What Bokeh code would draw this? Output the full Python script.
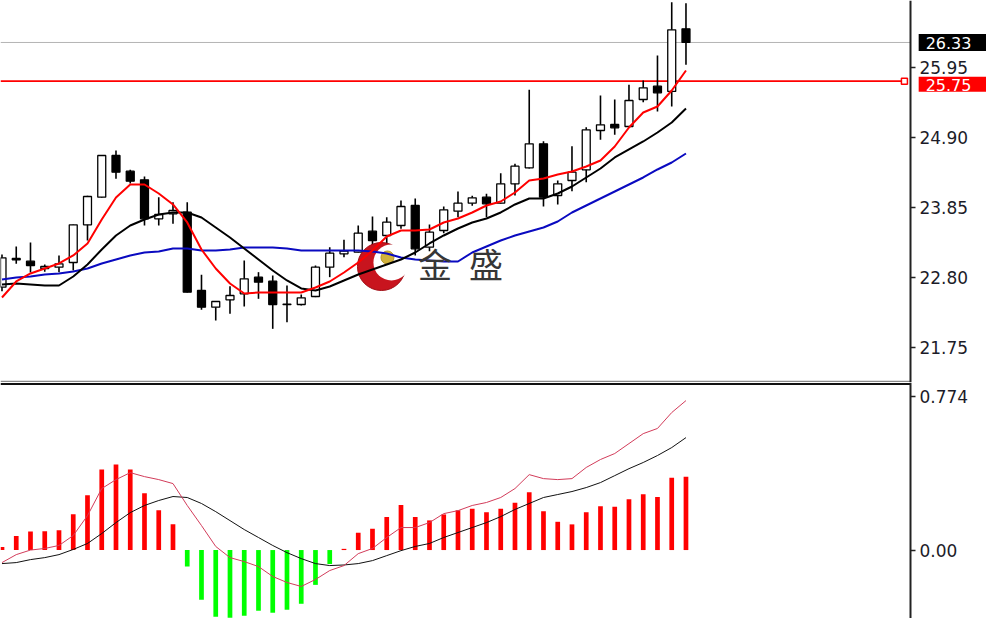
from bokeh.plotting import figure
from bokeh.layouts import column
from bokeh.models import Range1d, FixedTicker, Label, ColumnDataSource, LinearAxis
from bokeh.embed import file_html
from bokeh.resources import INLINE

# ---------------- data ----------------
opens  = [22.66, 23.07, 23.05, 22.94, 22.96, 23.03, 23.595, 24.01, 24.635, 24.40,
          24.27, 23.685, 23.76, 23.785, 22.61, 22.36, 22.47, 22.56, 22.81, 22.75,
          22.40, 22.40, 22.52, 22.96, 23.16, 23.185, 23.50, 23.435, 23.585, 23.885,
          23.26, 23.51, 23.80, 23.92, 24.01, 23.92, 24.21, 24.45, 24.81, 24.035,
          24.26, 24.42, 25.01, 25.10, 25.07, 25.475, 25.675, 25.595, 26.535]
highs  = [23.15, 23.27, 23.33, 23.00, 23.135, 23.60, 24.03, 24.64, 24.71, 24.42,
          24.32, 24.01, 23.935, 23.935, 22.845, 22.45, 22.675, 23.06, 22.885, 22.835,
          22.685, 22.55, 22.985, 23.26, 23.37, 23.585, 23.72, 23.71, 23.96, 23.99,
          23.60, 23.87, 24.095, 24.03, 24.06, 24.37, 24.51, 25.62, 24.85, 24.26,
          24.775, 25.06, 25.535, 25.475, 25.695, 25.76, 26.135, 26.935, 26.92]
lows   = [22.60, 23.01, 22.88, 22.89, 22.885, 22.91, 23.36, 24.00, 24.285, 24.215,
          23.585, 23.585, 23.61, 22.58, 22.32, 22.16, 22.26, 22.37, 22.485, 22.035,
          22.135, 22.385, 22.51, 22.81, 23.11, 23.18, 23.20, 23.30, 23.535, 23.135,
          23.20, 23.47, 23.71, 23.88, 23.71, 23.91, 24.035, 24.44, 23.87, 23.90,
          24.10, 24.235, 24.87, 24.945, 25.05, 25.435, 25.295, 25.37, 25.995]
closes = [23.10, 23.09, 22.985, 22.97, 23.01, 23.595, 24.02, 24.635, 24.385, 24.25,
          23.685, 23.75, 23.81, 22.585, 22.36, 22.445, 22.535, 22.785, 22.735, 22.40,
          22.405, 22.50, 22.96, 23.17, 23.20, 23.47, 23.36, 23.635, 23.87, 23.235,
          23.485, 23.82, 23.92, 24.00, 23.91, 24.21, 24.475, 24.81, 24.01, 24.21,
          24.385, 25.02, 25.095, 25.05, 25.46, 25.65, 25.575, 26.52, 26.33]

ma_fast = [22.505, 22.745, 22.865, 22.94, 23.015, 23.135, 23.315, 23.675, 24.005, 24.20,
           24.20, 24.065, 23.90, 23.63, 23.225, 22.94, 22.715, 22.565, 22.58, 22.58,
           22.58, 22.58, 22.655, 22.745, 22.88, 23.03, 23.21, 23.42, 23.51, 23.51,
           23.525, 23.63, 23.69, 23.78, 23.885, 23.945, 24.08, 24.26, 24.29, 24.35,
           24.395, 24.47, 24.56, 24.77, 25.055, 25.28, 25.37, 25.61, 25.91]
ma_mid  = [22.70, 22.715, 22.70, 22.685, 22.685, 22.82, 23.00, 23.225, 23.435, 23.585,
           23.675, 23.75, 23.78, 23.78, 23.705, 23.555, 23.405, 23.24, 23.075, 22.91,
           22.76, 22.64, 22.61, 22.67, 22.76, 22.85, 22.925, 23.00, 23.075, 23.18,
           23.315, 23.435, 23.54, 23.63, 23.69, 23.78, 23.90, 23.99, 23.99, 24.065,
           24.17, 24.305, 24.44, 24.605, 24.725, 24.845, 24.98, 25.13, 25.34]
ma_slow = [22.775, 22.805, 22.82, 22.85, 22.865, 22.895, 22.94, 23.015, 23.075, 23.135,
           23.18, 23.195, 23.24, 23.24, 23.21, 23.21, 23.225, 23.255, 23.255, 23.255,
           23.24, 23.21, 23.21, 23.21, 23.21, 23.21, 23.195, 23.165, 23.105, 23.075,
           23.06, 23.045, 23.045, 23.18, 23.27, 23.36, 23.435, 23.495, 23.555, 23.645,
           23.78, 23.885, 23.99, 24.095, 24.20, 24.305, 24.425, 24.53, 24.665]

macd_hist   = [0.015, 0.07, 0.093, 0.095, 0.10, 0.18, 0.275, 0.405, 0.43, 0.405,
               0.285, 0.20, 0.13, -0.083, -0.25, -0.335, -0.34, -0.33, -0.305, -0.315,
               -0.30, -0.27, -0.175, -0.07, 0.006, 0.087, 0.107, 0.166, 0.226, 0.166,
               0.149, 0.179, 0.20, 0.207, 0.19, 0.207, 0.238, 0.29, 0.195, 0.142,
               0.129, 0.19, 0.22, 0.217, 0.255, 0.28, 0.266, 0.363, 0.368]
macd_dif    = [-0.063, -0.023, 0.0, 0.008, 0.023, 0.073, 0.173, 0.309, 0.354, 0.389,
               0.369, 0.354, 0.334, 0.224, 0.123, 0.018, -0.038, -0.058, -0.083, -0.133,
               -0.163, -0.183, -0.148, -0.103, -0.078, -0.018, 0.008, 0.063, 0.113, 0.113,
               0.138, 0.183, 0.198, 0.224, 0.239, 0.264, 0.309, 0.379, 0.359, 0.354,
               0.359, 0.415, 0.455, 0.485, 0.535, 0.585, 0.611, 0.691, 0.751]
macd_dea    = [-0.068, -0.063, -0.048, -0.038, -0.023, 0.003, 0.033, 0.083, 0.138, 0.188,
               0.224, 0.249, 0.269, 0.264, 0.234, 0.193, 0.148, 0.103, 0.063, 0.023,
               -0.013, -0.043, -0.068, -0.078, -0.075, -0.068, -0.053, -0.028, -0.003, 0.018,
               0.033, 0.063, 0.088, 0.113, 0.138, 0.168, 0.204, 0.234, 0.264, 0.279,
               0.294, 0.314, 0.339, 0.374, 0.409, 0.440, 0.475, 0.515, 0.565]

price_ticks = [21.75, 22.80, 23.85, 24.90, 25.95, 27.00]
price_tick_labels = ["21.75", "22.80", "23.85", "24.90", "25.95", "27.00"]
macd_ticks = [0.0, 0.774]
macd_tick_labels = ["0.00", "0.774"]
last_price = 26.33
last_price_label = "26.33"
alert_level = 25.75
alert_label = "25.75"
watermark_text = "金\u2002盛"

# ---------------- layout ----------------
W = 986
TOP_H = 382
BOT_H = 236
X_START, X_END = -0.105, 69.09   # visible bar-index window
AXIS_AT = 63.75                  # bar index where the price scale sits (right margin of bars)
TAG_X = 64.33
AX_FONT = "DejaVu Sans"
AX_COLOR = "#1c1c28"

idx = list(range(len(closes)))
xr = Range1d(X_START, X_END)


def price_axis(fig, ticks, labels):
    ax = LinearAxis(fixed_location=AXIS_AT)
    ax.ticker = FixedTicker(ticks=ticks)
    ax.major_label_overrides = {t: l for t, l in zip(ticks, labels)}
    ax.minor_tick_line_color = None
    ax.major_tick_in = 0
    ax.major_tick_out = 5
    ax.major_tick_line_width = 1.5
    ax.major_tick_line_color = "#222222"
    ax.axis_line_width = 2
    ax.axis_line_color = "#222222"
    ax.major_label_standoff = 4
    ax.major_label_text_font = AX_FONT
    ax.major_label_text_font_size = "17px"
    ax.major_label_text_color = AX_COLOR
    fig.add_layout(ax, "right")
    return ax


def base_fig(h, yr):
    f = figure(width=W, height=h, x_range=xr, y_range=yr,
               output_backend="svg", toolbar_location=None,
               x_axis_location=None, y_axis_location=None,
               min_border_left=0, min_border_right=0, min_border_top=0, min_border_bottom=0)
    f.grid.visible = False
    f.outline_line_color = None
    return f


# ---------------- price panel ----------------
p = base_fig(TOP_H, Range1d(21.230, 26.9595))
price_axis(p, price_ticks, price_tick_labels)

# horizontal price lines (stop at the price scale)
p.segment(x0=[X_START], y0=[last_price], x1=[AXIS_AT], y1=[last_price],
          line_color="#b4b4b4", line_width=1, level="underlay")
p.segment(x0=[X_START], y0=[alert_level], x1=[AXIS_AT - 0.6], y1=[alert_level],
          line_color="#ff0000", line_width=1.6)
p.scatter(x=[AXIS_AT - 0.42], y=[alert_level], marker="square", size=6,
          fill_color="white", line_color="#ff0000", line_width=1.5)
# panel separator
p.segment(x0=[X_START], y0=[21.245], x1=[AXIS_AT], y1=[21.245],
          line_color="#8a8a8a", line_width=1.5)

up_i = [i for i in idx if closes[i] >= opens[i]]
dn_i = [i for i in idx if closes[i] < opens[i]]
src_up = ColumnDataSource(dict(x=up_i, top=[closes[i] for i in up_i], bottom=[opens[i] for i in up_i]))
src_dn = ColumnDataSource(dict(x=dn_i, top=[opens[i] for i in dn_i], bottom=[closes[i] for i in dn_i]))

p.segment(x0=idx, y0=highs, x1=idx, y1=lows, line_color="black", line_width=1.6)
p.vbar(x="x", top="top", bottom="bottom", width=0.56, source=src_up,
       fill_color="white", line_color="black", line_width=1.3)
p.vbar(x="x", top="top", bottom="bottom", width=0.56, source=src_dn,
       fill_color="black", line_color="black", line_width=1.3)

# watermark logo
p.scatter(x=[26.63], y=[22.97], size=48, marker="circle", fill_color="#c8141e",
          line_color="#a00c14", line_width=1)
p.scatter(x=[27.33], y=[23.03], size=36, marker="circle", fill_color="white", line_color=None)
p.scatter(x=[27.05], y=[23.105], size=13, marker="circle", fill_color="#d2b23c",
          line_color="#b8962a", line_width=1)
p.add_layout(Label(x=29.2, y=23.02, text=watermark_text, text_font="Noto Sans CJK SC",
                   text_font_size="34px", text_color="#363636", text_baseline="middle"))

p.line(idx, ma_slow, line_color="#0a0ac0", line_width=2)
p.line(idx, ma_mid, line_color="black", line_width=2)
p.line(idx, ma_fast, line_color="#ff0000", line_width=2)

# price tags on the scale
p.add_layout(Label(x=TAG_X, y=last_price, text=last_price_label, text_color="white",
                   text_font=AX_FONT, text_font_size="16px", text_baseline="middle",
                   background_fill_color="black",
                   padding=dict(left=7, right=20, top=3, bottom=2)))
p.add_layout(Label(x=TAG_X, y=alert_level, y_offset=-3, text=alert_label, text_color="white",
                   text_font=AX_FONT, text_font_size="16px", text_baseline="middle",
                   background_fill_color="#ff0000",
                   padding=dict(left=7, right=20, top=2, bottom=1)))

# ---------------- MACD panel ----------------
q = base_fig(BOT_H, Range1d(-0.344, 0.842))
price_axis(q, macd_ticks, macd_tick_labels)
q.segment(x0=[X_START], y0=[0.835], x1=[AXIS_AT], y1=[0.835],
          line_color="#111111", line_width=2)

pos_i = [i for i in idx if macd_hist[i] >= 0]
neg_i = [i for i in idx if macd_hist[i] < 0]
q.vbar(x=pos_i, top=[macd_hist[i] for i in pos_i], bottom=0, width=0.33,
       fill_color="#ff0000", line_color=None)
q.vbar(x=neg_i, top=0, bottom=[macd_hist[i] for i in neg_i], width=0.33,
       fill_color="#00ff00", line_color=None)
q.line(idx, macd_dea, line_color="#111111", line_width=1)
q.line(idx, macd_dif, line_color="#d23c5a", line_width=1)

layout = column(p, q, spacing=0)
open("out.html", "w").write(file_html(layout, INLINE))
